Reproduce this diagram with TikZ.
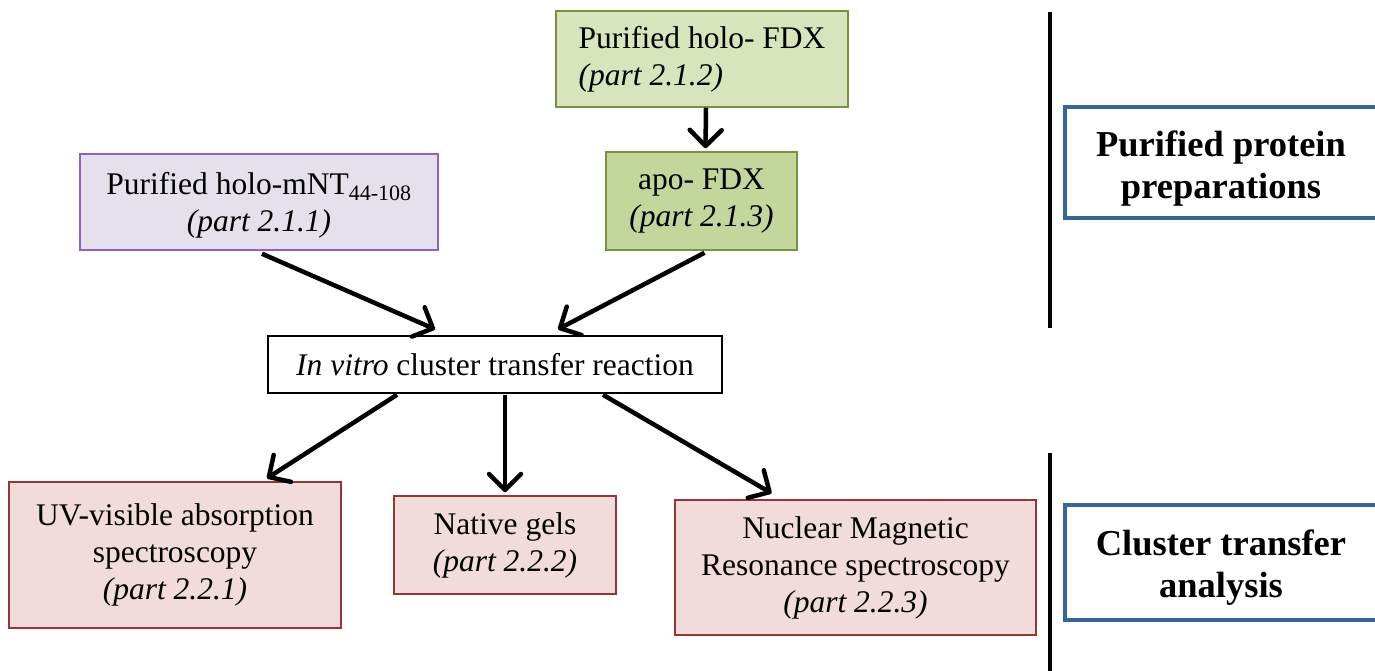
\documentclass[tikz,border=0pt]{standalone}
\usepackage{fontspec}
\setmainfont{Liberation Serif}
\usetikzlibrary{arrows.meta}
\definecolor{gfillA}{HTML}{D8E4BC}
\definecolor{gfillB}{HTML}{C3D69B}
\definecolor{gdraw}{HTML}{77933C}
\definecolor{pfill}{HTML}{E6E0EC}
\definecolor{pdraw}{HTML}{9060C0}
\definecolor{rfill}{HTML}{F2DCDB}
\definecolor{rdraw}{HTML}{943634}
\definecolor{bdraw}{HTML}{34659B}
\tikzset{
  box/.style={draw, line width=1.5pt, inner sep=0pt, align=center,
    font=\fontsize{31.5}{37}\selectfont},
  greenA/.style={box, fill=gfillA, draw=gdraw},
  greenB/.style={box, fill=gfillB, draw=gdraw},
  purp/.style={box, fill=pfill, draw=pdraw},
  pinkbox/.style={box, fill=rfill, draw=rdraw},
  label/.style={draw=bdraw, line width=4pt, fill=white, inner sep=0pt, align=center,
    font=\fontsize{36.5}{42}\selectfont\bfseries},
  arr/.style={line width=4.5pt, -{Straight Barb[length=16pt,width=32pt,line width=4.5pt,round]}},
  sep/.style={line width=4pt}
}
\begin{document}
\begin{tikzpicture}[x=1pt,y=-1pt]
\useasboundingbox (0,0) rectangle (1375,671);
\node[greenA, minimum width=292pt, minimum height=96pt, align=left] (holo) at (702,59)
  {Purified holo- FDX\\\textit{(part 2.1.2)}};
\node[greenB, minimum width=191pt, minimum height=98pt] (apo) at (701.5,201)
  {apo- FDX\\\textit{(part 2.1.3)}};
\node[purp, minimum width=358pt, minimum height=96pt] (mnt) at (259,202)
  {\raisebox{-3pt}[\height][\depth]{\parbox{340pt}{\centering Purified holo-mNT\textsubscript{\fontsize{22}{22}\selectfont 44-108}\\\textit{(part 2.1.1)}}}};
\node[box, fill=white, draw=black, minimum width=454pt, minimum height=57pt] (iv) at (495,364.5)
  {\textit{In vitro} cluster transfer reaction};
\node[pinkbox, minimum width=332pt, minimum height=146pt] (uv) at (175,555)
  {UV-visible absorption\\spectroscopy\\\textit{(part 2.2.1)}};
\node[pinkbox, minimum width=222pt, minimum height=98pt] (gels) at (505,545)
  {Native gels\\\textit{(part 2.2.2)}};
\node[pinkbox, minimum width=361pt, minimum height=135pt] (nmr) at (855.5,567.5)
  {Nuclear Magnetic\\Resonance spectroscopy\\\textit{(part 2.2.3)}};
\node[label, minimum width=312pt, minimum height=111pt] (ppp) at (1221,162.5)
  {\raisebox{-6pt}[\height][\depth]{\parbox{300pt}{\centering Purified protein\\preparations}}};
\node[label, minimum width=312pt, minimum height=115pt] (cta) at (1221,562.5)
  {\raisebox{-5pt}[\height][\depth]{\parbox{300pt}{\centering Cluster transfer\\analysis}}};
\coordinate (s1a) at (1050,12);
\coordinate (s1b) at (1050,328);
\coordinate (s2a) at (1050,453);
\coordinate (s2b) at (1050,671);
\draw[sep] (s1a) -- (s1b);
\draw[sep] (s2a) -- (s2b);
\draw[arr] ([xshift=4pt]holo.south) -- ([xshift=4pt,yshift=3pt]apo.north);
\draw[arr] ([xshift=3pt,yshift=-3pt]mnt.south) -- ([xshift=-60pt,yshift=6pt]iv.north);
\draw[arr] ([xshift=3pt,yshift=-2pt]apo.south) -- ([xshift=63pt,yshift=6pt]iv.north);
\draw[arr] ([xshift=-98pt,yshift=-1pt]iv.south) -- ([xshift=92pt,yshift=3pt]uv.north);
\draw[arr] ([xshift=10pt,yshift=-1pt]iv.south) -- ([yshift=3pt]gels.north);
\draw[arr] ([xshift=108pt,yshift=-1pt]iv.south) -- ([xshift=-84pt,yshift=6pt]nmr.north);
\end{tikzpicture}
\end{document}
